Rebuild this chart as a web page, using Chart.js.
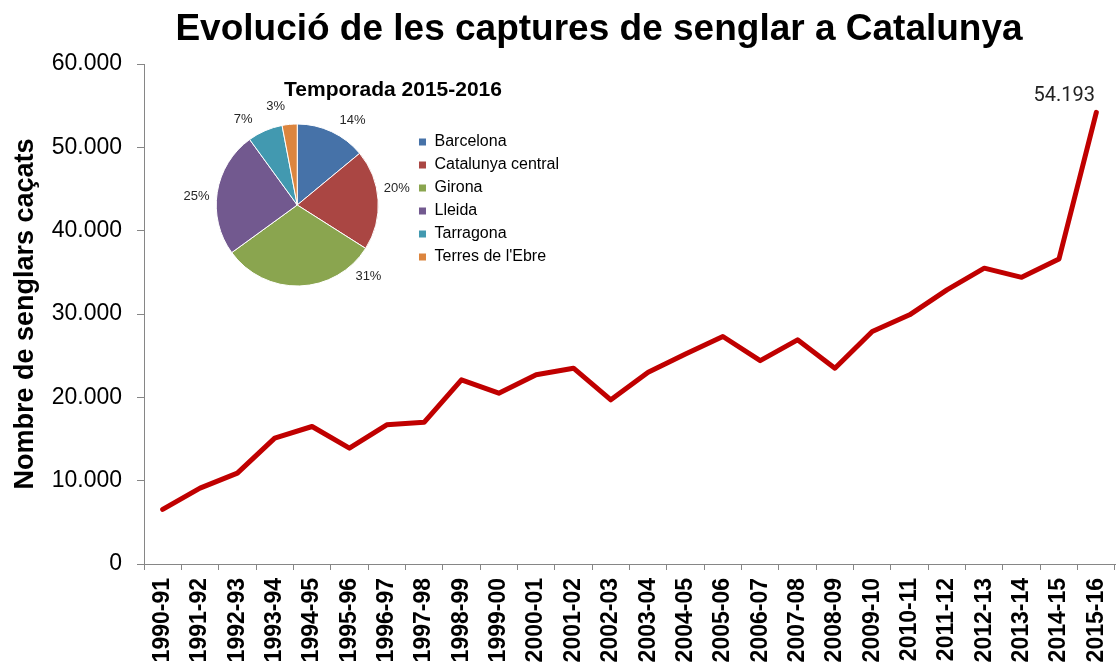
<!DOCTYPE html>
<html lang="ca">
<head>
  <meta charset="UTF-8">
  <title>Evolució de les captures de senglar a Catalunya</title>
  <script src="https://cdn.jsdelivr.net/npm/chart.js"></script>
  <style>
    body { margin: 0; background: #fff; }
    #wrap { position: relative; width: 1116px; height: 670px; }
    #lineChart { position: absolute; left: 0; top: 0; }
    #pieChart { position: absolute; left: 170px; top: 70px; }
  </style>
</head>
<body>
  <div id="wrap">
    <canvas id="lineChart" width="1116" height="670"></canvas>
    <canvas id="pieChart" width="406" height="230"></canvas>
  </div>
  <script>
    // Dades llegides del gràfic
    const titol = 'Evolució de les captures de senglar a Catalunya';
    const titolEix = 'Nombre de senglars caçats';
    const temporades = ['1990-91', '1991-92', '1992-93', '1993-94', '1994-95', '1995-96', '1996-97',
      '1997-98', '1998-99', '1999-00', '2000-01', '2001-02', '2002-03', '2003-04', '2004-05',
      '2005-06', '2006-07', '2007-08', '2008-09', '2009-10', '2010-11', '2011-12', '2012-13',
      '2013-14', '2014-15', '2015-16'];
    const captures = [6550, 9100, 10900, 15100, 16500, 13900, 16700, 17000, 22100, 20500, 22700,
      23500, 19700, 23000, 25200, 27300, 24400, 26900, 23500, 27900, 29900, 32900, 35500,
      34400, 36600, 54193];

    const titolPastis = 'Temporada 2015-2016';
    const zones = ['Barcelona', 'Catalunya central', 'Girona', 'Lleida', 'Tarragona', "Terres de l'Ebre"];
    const percentatges = [14, 20, 31, 25, 7, 3];
    const colorsZones = ['#4672A8', '#AA4643', '#8AA54F', '#72598F', '#4299B0', '#DC853E'];

    const miles = v => String(v).replace(/\B(?=(\d{3})+(?!\d))/g, '.');

    Chart.defaults.font.family = '"Liberation Sans", Arial, sans-serif';
    Chart.defaults.color = '#000';

    // títol dibuixat a una posició fixa
    const titolFix = {
      id: 'titolFix',
      afterDraw(chart, args, opts) {
        const ctx = chart.ctx;
        ctx.save();
        ctx.font = opts.font;
        ctx.fillStyle = opts.color;
        ctx.textAlign = 'center';
        ctx.textBaseline = 'alphabetic';
        ctx.fillText(opts.text, opts.x, opts.y);
        ctx.restore();
      }
    };

    // etiqueta del darrer punt
    const etiquetaFinal = {
      id: 'etiquetaFinal',
      afterDatasetsDraw(chart) {
        const meta = chart.getDatasetMeta(0);
        const i = meta.data.length - 1;
        const pt = meta.data[i];
        const ctx = chart.ctx;
        ctx.save();
        ctx.font = '20px Roboto';
        ctx.fillStyle = '#222';
        ctx.textAlign = 'center';
        ctx.fillText(miles(captures[i]), pt.x - 32, pt.y - 11);
        ctx.restore();
      }
    };

    // percentatges fora del pastís
    const etiquetesPastis = {
      id: 'etiquetesPastis',
      afterDatasetsDraw(chart, args, opts) {
        const meta = chart.getDatasetMeta(0);
        const ctx = chart.ctx;
        ctx.save();
        ctx.font = '13px "Liberation Sans", Arial, sans-serif';
        ctx.fillStyle = '#262626';
        ctx.textAlign = 'center';
        ctx.textBaseline = 'middle';
        meta.data.forEach((arc, i) => {
          const p = arc.getProps(['x', 'y', 'startAngle', 'endAngle', 'outerRadius'], true);
          const a = (p.startAngle + p.endAngle) / 2 + (opts.gir[i] || 0) * Math.PI / 180;
          const d = p.outerRadius + opts.dist;
          ctx.fillText(percentatges[i] + '%', p.x + Math.cos(a) * d, p.y + Math.sin(a) * d);
        });
        ctx.restore();
      }
    };

    new Chart(document.getElementById('lineChart'), {
      type: 'line',
      data: {
        labels: temporades,
        datasets: [{
          data: captures,
          borderColor: '#C00000',
          borderWidth: 5,
          pointRadius: 0,
          tension: 0,
          borderCapStyle: 'round',
          borderJoinStyle: 'round',
          clip: false
        }]
      },
      options: {
        responsive: false,
        animation: false,
        layout: { padding: { top: 64, right: 1, bottom: 0, left: 0 } },
        plugins: {
          legend: { display: false },
          tooltip: { enabled: false },
          titolFix: { text: titol, x: 599, y: 40, font: 'bold 37px "Liberation Sans", Arial, sans-serif', color: '#000' }
        },
        scales: {
          x: {
            offset: true,
            grid: { offset: true, drawOnChartArea: false, tickLength: 6, color: '#868686' },
            border: { color: '#868686', width: 1 },
            ticks: {
              autoSkip: false, minRotation: 90, maxRotation: 90, padding: 8,
              font: { size: 23, weight: 'bold' }
            },
            afterFit: s => { s.height = 106; s.paddingLeft = 0; s.paddingRight = 0; }
          },
          y: {
            min: 0,
            max: 60000,
            ticks: { stepSize: 10000, padding: 15, font: { size: 23 }, callback: v => miles(v) },
            grid: { drawOnChartArea: false, tickLength: 7, color: '#868686' },
            border: { color: '#868686', width: 1 },
            title: {
              display: true, text: titolEix,
              font: { size: 27, weight: 'bold' },
              padding: { top: 9, bottom: 0 }
            },
            afterFit: s => { s.width = 144; }
          }
        }
      },
      plugins: [titolFix, etiquetaFinal]
    });

    new Chart(document.getElementById('pieChart'), {
      type: 'pie',
      data: {
        labels: zones,
        datasets: [{
          data: percentatges,
          backgroundColor: colorsZones,
          borderColor: '#fff',
          borderWidth: 1,
          radius: 81,
          clip: false
        }]
      },
      options: {
        responsive: false,
        animation: false,
        layout: { padding: { top: 57, bottom: 17, left: 13, right: 7 } },
        plugins: {
          legend: {
            position: 'right',
            align: 'start',
            labels: { boxWidth: 8, boxHeight: 8, padding: 7, font: { size: 16 } }
          },
          tooltip: { enabled: false },
          titolFix: { text: titolPastis, x: 223, y: 26, font: 'bold 21px "Liberation Sans", Arial, sans-serif', color: '#000' },
          etiquetesPastis: { dist: 20, gir: [8, -6, -43, -4, -9, -7] }
        }
      },
      plugins: [titolFix, etiquetesPastis]
    });
  </script>
</body>
</html>
